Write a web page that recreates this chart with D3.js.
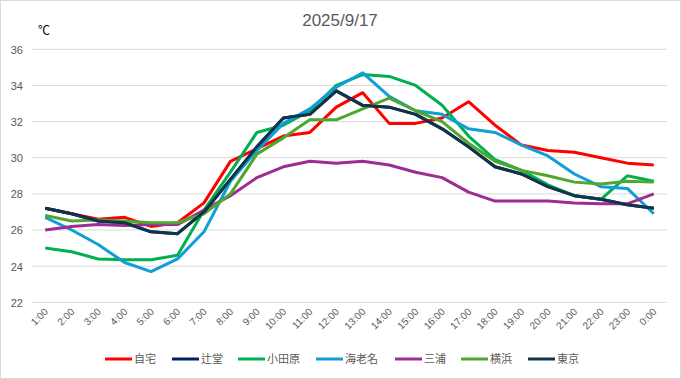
<html>
<head>
<meta charset="utf-8">
<title>2025/9/17</title>
<style>
  body { margin: 0; background: #fff; }
  text { font-family: "Liberation Sans", Arial, "Noto Sans CJK JP", sans-serif; }
</style>
</head>
<body>
<script src="https://cdn.jsdelivr.net/npm/d3@7"></script>
<script>

var width  = 681;
var height = 379;

// 時刻
var hours = ["1:00","2:00","3:00","4:00","5:00","6:00","7:00","8:00","9:00","10:00","11:00","12:00",
             "13:00","14:00","15:00","16:00","17:00","18:00","19:00","20:00","21:00","22:00","23:00","0:00"];

// 各地点の気温 (℃)
var jitaku   = [27.2,26.9,26.6,26.7,26.2,26.4,27.5,29.8,30.5,31.2,31.4,32.8,33.6,31.9,31.9,32.2,33.1,31.8,30.7,30.4,30.3,30.0,29.7,29.6];
var tsujido  = [27.2,26.9,26.5,26.4,25.9,25.8,27.0,28.8,30.6,32.2,32.4,33.7,32.9,32.8,32.4,31.6,30.6,29.5,29.1,28.4,27.9,27.7,27.4,27.2];
var odawara  = [25.0,24.8,24.4,24.35,24.35,24.6,27.1,29.2,31.4,31.8,32.6,34.0,34.6,34.5,34.0,32.9,31.2,29.9,29.3,28.5,27.9,27.7,29.0,28.7];
var ebina    = [26.7,26.0,25.2,24.2,23.7,24.4,25.9,28.7,30.4,31.9,32.7,33.9,34.7,33.4,32.6,32.4,31.6,31.4,30.7,30.1,29.1,28.4,28.3,26.9];
var miura    = [26.0,26.2,26.3,26.25,26.3,26.3,27.1,27.9,28.9,29.5,29.8,29.7,29.8,29.6,29.2,28.9,28.1,27.6,27.6,27.6,27.5,27.45,27.45,28.0];
var yokohama = [26.8,26.5,26.55,26.5,26.4,26.4,26.9,28.0,30.2,31.1,32.1,32.1,32.7,33.3,32.6,32.0,30.8,29.8,29.3,29.0,28.65,28.55,28.7,28.65];
var tokyo    = [27.2,26.9,26.5,26.4,25.9,25.8,27.0,28.8,30.6,32.2,32.4,33.7,32.9,32.8,32.4,31.6,30.6,29.5,29.1,28.4,27.9,27.7,27.4,27.2];

var names  = ["自宅","辻堂","小田原","海老名","三浦","横浜","東京"];
var colors = ["#FF0000","#002060","#00B050","#0F9ED5","#A02B93","#4EA72E","#10344A"];
var yTicks = [22,24,26,28,30,32,34,36];

var series = [jitaku, tsujido, odawara, ebina, miura, yokohama, tokyo];

var svg = d3.select("body").append("svg")
            .attr("width", width)
            .attr("height", height);

// 外枠
svg.append("rect")
   .attr("x", 0.5).attr("y", 0.5)
   .attr("width", width - 1).attr("height", height - 1)
   .attr("fill", "#fff")
   .attr("stroke", "#d9d9d9");

var x = d3.scalePoint().domain(hours).range([32, 667]).padding(0.5);
var y = d3.scaleLinear().domain([22, 36]).range([302.3, 49.3]);

// 目盛線
svg.append("g").selectAll("line")
   .data(yTicks)
   .enter().append("line")
   .attr("x1", 32).attr("x2", 667)
   .attr("y1", function(d){ return y(d); })
   .attr("y2", function(d){ return y(d); })
   .attr("stroke", "#d9d9d9")
   .attr("stroke-width", 1);

// y軸ラベル
var yAxis = d3.axisLeft(y).tickValues(yTicks).tickSize(0).tickPadding(0);
var gy = svg.append("g").attr("transform", "translate(23,0)").call(yAxis);
gy.select(".domain").remove();
gy.selectAll("text")
  .attr("fill", "#595959")
  .style("font-size", "11px")
  .attr("dy", "0.35em");

// x軸ラベル
var xAxis = d3.axisBottom(x).tickSize(0).tickPadding(0);
var gx = svg.append("g").attr("transform", "translate(0,302.3)").call(xAxis);
gx.select(".domain").remove();
gx.selectAll("text")
  .attr("fill", "#595959")
  .style("font-size", "10px")
  .attr("text-anchor", "end")
  .attr("dy", 0)
  .attr("transform", "translate(3,10) rotate(-45)");

// 折れ線
var line = d3.line()
  .x(function(d, i){ return x(hours[i]); })
  .y(function(d){ return y(d); });

svg.append("g").selectAll("path")
   .data(series)
   .enter().append("path")
   .attr("d", line)
   .attr("fill", "none")
   .attr("stroke", function(d, i){ return colors[i]; })
   .attr("stroke-width", 3)
   .attr("stroke-linejoin", "round");

// タイトル
svg.append("text")
   .attr("x", 340).attr("y", 26)
   .attr("text-anchor", "middle")
   .attr("fill", "#595959")
   .style("font-size", "17px")
   .text("2025/9/17");

svg.append("text")
   .attr("x", 38).attr("y", 35)
   .attr("fill", "#000")
   .style("font-size", "12px")
   .text("℃");

// 凡例
var legendX = [105, 172, 238, 316, 395, 461, 528];
var lg = svg.append("g").selectAll("g")
   .data(names)
   .enter().append("g")
   .attr("transform", function(d, i){ return "translate(" + legendX[i] + ",359)"; });
lg.append("line")
  .attr("x1", 0).attr("x2", 27)
  .attr("stroke", function(d, i){ return colors[i]; })
  .attr("stroke-width", 3);
lg.append("text")
  .attr("x", 29).attr("dy", "0.35em")
  .attr("fill", "#595959")
  .style("font-size", "11px")
  .text(function(d){ return d; });

</script>
</body>
</html>
